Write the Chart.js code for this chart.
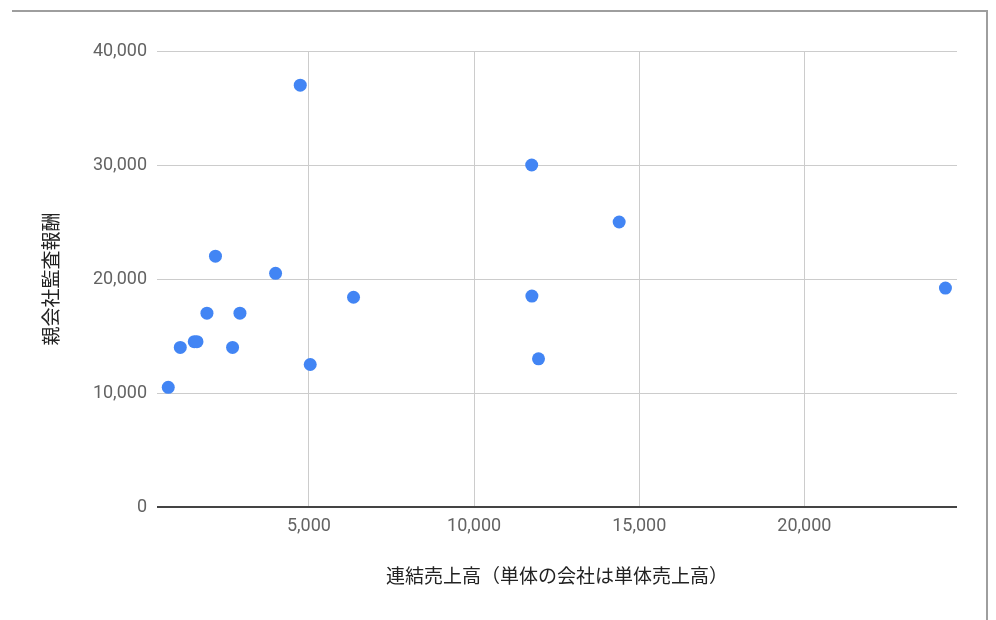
<!DOCTYPE html>
<html>
<head>
<meta charset="utf-8">
<script src="https://cdn.jsdelivr.net/npm/chart.js@4"></script>
<style>
  body { margin: 0; background: #fff; overflow: hidden; }
  #wrap { position: relative; width: 996px; height: 620px; }
  #frame {
    position: absolute; left: 12px; top: 10px; width: 974px; height: 640px;
    border-top: 2px solid #9e9e9e; border-right: 2px solid #9e9e9e;
    pointer-events: none;
  }
</style>
</head>
<body>
<div id="wrap">
  <canvas id="scatterChart" width="996" height="620"></canvas>
  <div id="frame"></div>
</div>
<script>
// 連結売上高 (x) vs 親会社監査報酬 (y)
const sales = [741, 1105, 1528, 1610, 1912, 2170, 2688, 2911, 3990, 4737, 5039, 6350, 11744, 11750, 11950, 14392, 24270];
const auditFees = [10500, 14000, 14500, 14500, 17000, 22000, 14000, 17000, 20500, 37000, 12500, 18400, 30000, 18500, 13000, 25000, 19200];
const xTicks = [5000, 10000, 15000, 20000];
const yTicks = [0, 10000, 20000, 30000, 40000];

const points = sales.map((x, i) => ({ x: x, y: auditFees[i] }));

const tickFont = { family: 'Roboto, "Noto Sans", sans-serif', size: 18 };
const titleFont = { family: '"Noto Sans CJK JP", sans-serif', size: 19 };

const ctx = document.getElementById('scatterChart').getContext('2d');
const scatterChart = new Chart(ctx, {
    type: 'scatter',
    data: {
        datasets: [{
            data: points,
            backgroundColor: '#4285f4',
            borderWidth: 0,
            pointRadius: 6.5,
            pointHoverRadius: 6.5
        }]
    },
    options: {
        responsive: false,
        animation: false,
        layout: {
            autoPadding: false,
            padding: { top: 51, right: 39, left: 0, bottom: 0 }
        },
        plugins: {
            legend: { display: false },
            tooltip: { enabled: false }
        },
        scales: {
            x: {
                type: 'linear',
                min: 400,
                max: 24620,
                afterBuildTicks: (scale) => { scale.ticks = xTicks.map(v => ({ value: v })); },
                afterFit: (scale) => { scale.height = 113; },
                ticks: {
                    color: '#636363',
                    font: tickFont,
                    padding: 9,
                    maxRotation: 0,
                    callback: (v) => v.toLocaleString('en-US')
                },
                grid: { color: '#cccccc', lineWidth: 1, drawTicks: false },
                border: { display: false },
                title: {
                    display: true,
                    text: '連結売上高（単体の会社は単体売上高）',
                    color: '#222222',
                    font: titleFont,
                    padding: { top: 0, bottom: 32.5 }
                }
            },
            y: {
                min: yTicks[0],
                max: yTicks[yTicks.length - 1],
                afterBuildTicks: (scale) => { scale.ticks = yTicks.map(v => ({ value: v })); },
                afterFit: (scale) => { scale.width = 157; },
                ticks: {
                    color: '#636363',
                    font: tickFont,
                    padding: 10,
                    callback: (v) => v.toLocaleString('en-US')
                },
                grid: {
                    color: (c) => c.tick && c.tick.value === 0 ? '#444444' : '#cccccc',
                    lineWidth: (c) => c.tick && c.tick.value === 0 ? 2 : 1,
                    drawTicks: false
                },
                border: { display: false },
                title: {
                    display: true,
                    text: '親会社監査報酬',
                    color: '#222222',
                    font: titleFont,
                    padding: { top: 39, bottom: 0 }
                }
            }
        }
    }
});
</script>
</body>
</html>
